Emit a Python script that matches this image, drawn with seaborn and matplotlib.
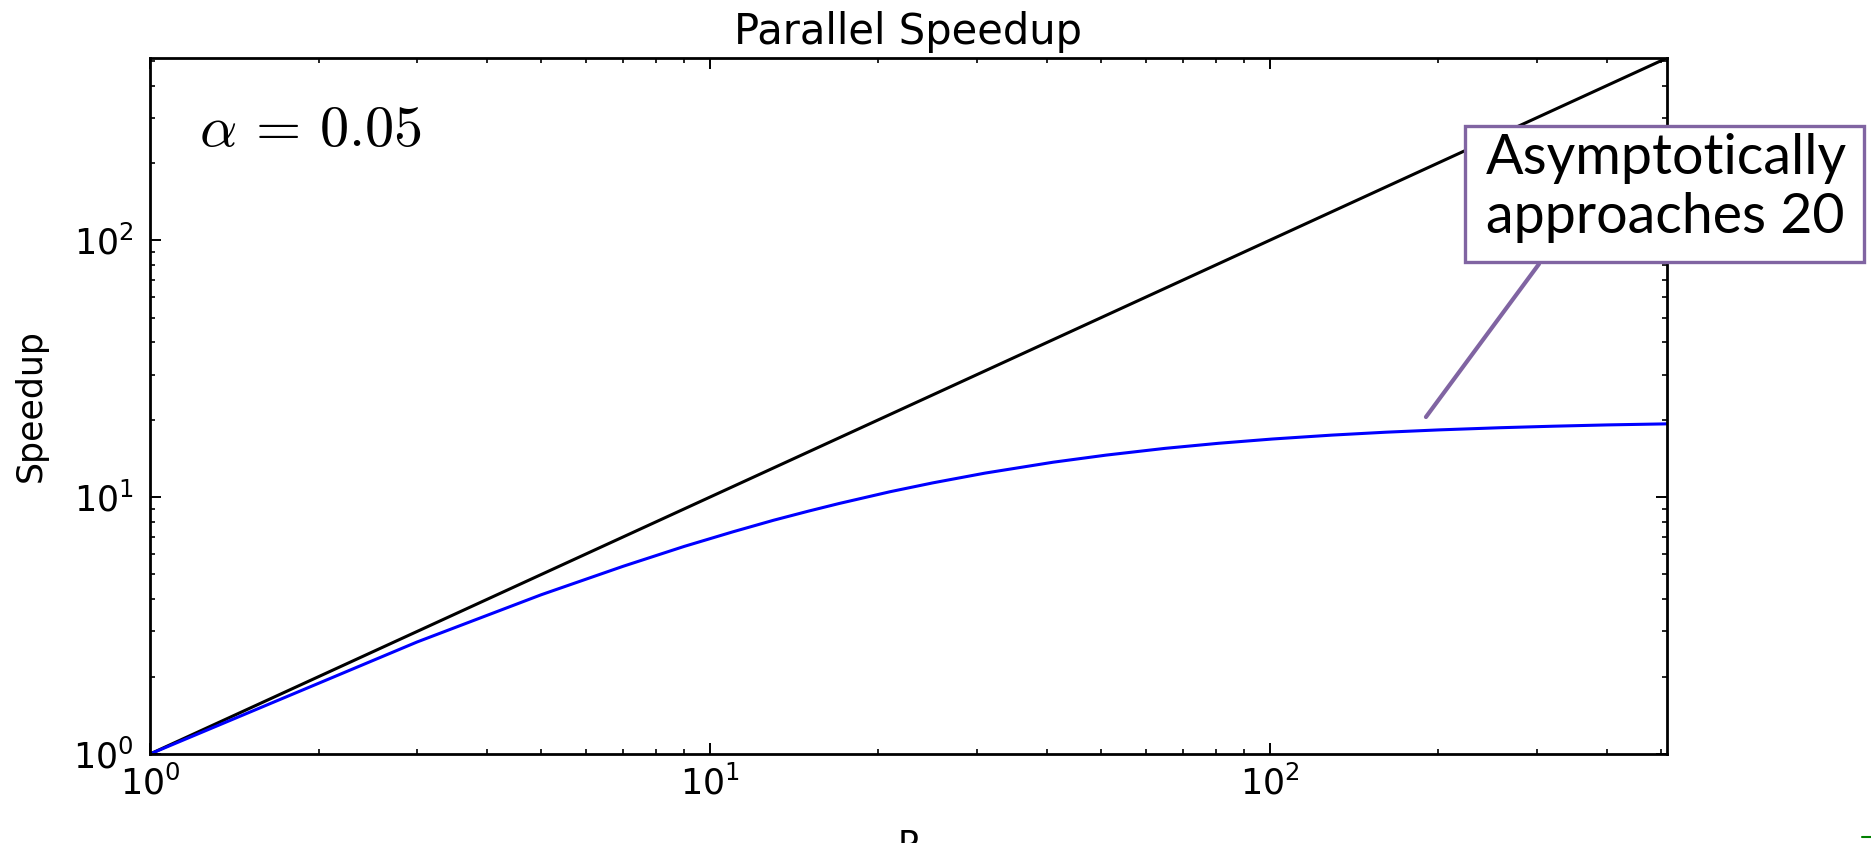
import matplotlib
matplotlib.use("Agg")
import matplotlib.pyplot as plt
from matplotlib.patches import Rectangle
from matplotlib.lines import Line2D
import seaborn as sns
import pandas as pd

# Processor counts and measured speedup for a 5% serial fraction
processors = [1, 3, 5, 7, 9, 11, 13, 15, 17, 21, 25, 31, 41, 51, 65, 81,
              101, 129, 161, 201, 257, 321, 401, 511]
speedup = [1.00, 2.73, 4.17, 5.38, 6.43, 7.33, 8.13, 8.82, 9.44, 10.50,
           11.36, 12.40, 13.67, 14.57, 15.48, 16.20, 16.83, 17.43, 17.89,
           18.27, 18.62, 18.88, 19.10, 19.28]

# Ideal linear speedup
ideal_p = [1, 512]
ideal_speedup = [1, 512]

title = "Parallel Speedup"
xlabel = "P"
ylabel = "Speedup"
alpha_label = r"$\alpha\,=\,0.05$"
note = "Asymptotically\napproaches 20"

sns.set_style("ticks")
plt.rcParams["font.family"] = ["DejaVu Sans"]
plt.rcParams["mathtext.fontset"] = "dejavusans"
plt.rcParams["text.color"] = "black"
plt.rcParams["axes.labelcolor"] = "black"
plt.rcParams["xtick.color"] = "black"
plt.rcParams["ytick.color"] = "black"

W, H = 1871, 843
fig = plt.figure(figsize=(W / 100, H / 100), dpi=100)
ax = fig.add_axes([150 / W, 1 - 754 / H, (1667 - 150) / W, (754 - 58) / H])

ideal = pd.DataFrame({"P": ideal_p, "S": ideal_speedup})
amdahl = pd.DataFrame({"P": processors, "S": speedup})
sns.lineplot(data=ideal, x="P", y="S", color="black", lw=2.2, ax=ax, errorbar=None)
sns.lineplot(data=amdahl, x="P", y="S", color="blue", lw=2.2, ax=ax, errorbar=None)

ax.set_xscale("log")
ax.set_yscale("log")
ax.set_xlim(1, 512)
ax.set_ylim(1, 512)

for s in ax.spines.values():
    s.set_visible(True)
    s.set_linewidth(2.0)
    s.set_color("black")

ax.tick_params(which="both", direction="in", top=True, right=True,
               colors="black", labelcolor="black", labelsize=25)
ax.tick_params(which="major", length=8, width=1.4)
ax.tick_params(which="minor", length=3.5, width=1.2)
ax.tick_params(axis="x", which="both", pad=8)
ax.tick_params(axis="y", which="both", pad=12)

ax.set_title(title, fontsize=30, pad=10, color="black")
ax.set_ylabel(ylabel, fontsize=25, labelpad=18, color="black")
ax.set_xlabel(xlabel, fontsize=25, color="black")
ax.xaxis.set_label_coords(0.5, -0.108)

ax.text(0.032, 0.897, alpha_label, transform=ax.transAxes, fontsize=42,
        va="center", ha="left", math_fontfamily="cm", color="black")

# Callout box with its connector to the flattening curve
box = Rectangle((1465 / W, 1 - 262 / H), 399 / W, 136 / H,
                transform=fig.transFigure, facecolor="white",
                edgecolor="#8064A2", lw=2.4, zorder=5)
fig.add_artist(box)
fig.text(1486 / W, 1 - 133 / H, note, ha="left", va="top", fontsize=40,
         family=["Lato", "DejaVu Sans"], linespacing=1.2, zorder=6,
         color="black")
ax.annotate("", xy=(190, 20.5), xycoords="data",
            xytext=(1539 / W, 1 - 264 / H), textcoords="figure fraction",
            arrowprops=dict(arrowstyle="-", color="#8064A2", lw=3.0,
                            shrinkA=0, shrinkB=0))

fig.add_artist(Line2D([1862 / W, 1871 / W], [1 - 837 / H, 1 - 837 / H],
                      transform=fig.transFigure, color="green", lw=1.5))

fig.savefig("out.png", dpi=100)
